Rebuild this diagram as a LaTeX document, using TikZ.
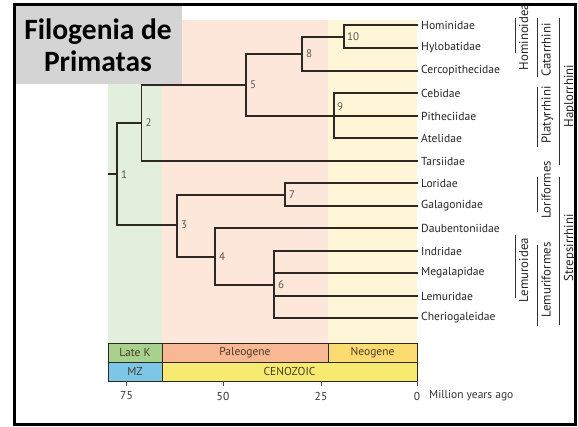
\documentclass[tikz,border=0pt]{standalone}
\usepackage{fontspec}
\setmainfont{PT Sans}
\newfontfamily\titlefont{Carlito}
\definecolor{bandG}{HTML}{E3EFDD}
\definecolor{bandP}{HTML}{FDE7DA}
\definecolor{bandY}{HTML}{FEF6D6}
\definecolor{lateK}{HTML}{A9D18E}
\definecolor{paleo}{HTML}{F8B894}
\definecolor{neo}{HTML}{FCDC70}
\definecolor{ceno}{HTML}{F6EB70}
\definecolor{mz}{HTML}{7CC7E8}
\definecolor{treec}{HTML}{2E2823}
\definecolor{numc}{HTML}{5A5550}
\definecolor{barc}{HTML}{4A3A2C}
\definecolor{titleg}{HTML}{D4D4D4}
\tikzset{
  br/.style={draw=treec, line width=1.3pt},
  taxon/.style={anchor=west, inner sep=0pt, font=\fontsize{11.6}{13}\selectfont, text=black!85},
  num/.style={anchor=west, inner sep=0pt, font=\fontsize{11}{13}\selectfont, text=numc},
  clade/.style={rotate=90, anchor=base, inner sep=0pt, font=\fontsize{12.8}{14}\selectfont, text=black!85},
  cladeline/.style={draw=black!80, line width=0.9pt},
  bar/.style={draw=treec, line width=1pt, font=\fontsize{11.5}{13}\selectfont, text=barc, inner sep=0pt},
  tick/.style={draw=black!70, line width=0.8pt},
  axis/.style={font=\fontsize{11.5}{13}\selectfont, text=black!80, inner sep=0pt}
}
\begin{document}
\begin{tikzpicture}[x=1pt, y=-1pt]
\useasboundingbox (0,0) rectangle (578,426);
% background bands
\fill[bandG] (108,20) rectangle (162,343);
\fill[bandP] (162,20) rectangle (328,343);
\fill[bandY] (328,20) rectangle (417,343);
% title
\fill[titleg] (16,5) rectangle (182,84);
\node[font=\titlefont\bfseries\fontsize{29.5}{32}\selectfont, align=center] (title) at (98,45) {Filogenia de\\Primatas};
% tips
\foreach \n/\y in {hom/25, hyl/48, cer/71, ceb/93, pit/116, ate/138, tar/161, lor/183, gal/206, dau/228, ind/251, meg/273, lem/296, che/318} {
  \coordinate (\n) at (418,\y);
}
\node[taxon] (Lhom) at (421,25) {Hominidae};
\node[taxon] (Lhyl) at (421,48) {Hylobatidae};
\node[taxon] (Lcer) at (421,71) {Cercopithecidae};
\node[taxon] (Lceb) at (421,93) {Cebidae};
\node[taxon] (Lpit) at (421,116) {Pitheciidae};
\node[taxon] (Late) at (421,138) {Atelidae};
\node[taxon] (Ltar) at (421,161) {Tarsiidae};
\node[taxon] (Llor) at (421,183) {Loridae};
\node[taxon] (Lgal) at (421,206) {Galagonidae};
\node[taxon] (Ldau) at (421,228) {Daubentoniidae};
\node[taxon] (Lind) at (421,251) {Indridae};
\node[taxon] (Lmeg) at (421,273) {Megalapidae};
\node[taxon] (Llem) at (421,296) {Lemuridae};
\node[taxon] (Lche) at (421,318) {Cheriogaleidae};
% internal nodes
\coordinate (root) at (108,174);
\coordinate (n1) at (117,174);
\coordinate (n2) at (141.5,123);
\coordinate (n5) at (246,85);
\coordinate (n8) at (302,54);
\coordinate (n10) at (344,37);
\coordinate (n9) at (334,116);
\coordinate (n3) at (177,225);
\coordinate (n7) at (285,195);
\coordinate (n4) at (215,257);
\coordinate (n6) at (274,285);
% branches
\draw[br] (root) -- (n1);
\draw[br] (n1) |- (n2);
\draw[br] (n1) |- (n3);
\draw[br] (n2) |- (n5);
\draw[br] (n2) |- (tar);
\draw[br] (n5) |- (n8);
\draw[br] (n5) |- (n9);
\draw[br] (n8) |- (n10);
\draw[br] (n8) |- (cer);
\draw[br] (n10) |- (hom);
\draw[br] (n10) |- (hyl);
\draw[br] (n9) |- (ceb);
\draw[br] (n9) |- (pit);
\draw[br] (n9) |- (ate);
\draw[br] (n3) |- (n7);
\draw[br] (n3) |- (n4);
\draw[br] (n7) |- (lor);
\draw[br] (n7) |- (gal);
\draw[br] (n4) |- (dau);
\draw[br] (n4) |- (n6);
\draw[br] (n6) |- (ind);
\draw[br] (n6) |- (meg);
\draw[br] (n6) |- (lem);
\draw[br] (n6) |- (che);
% node numbers
\node[num] (k1) at (121,175) {1};
\node[num] (k2) at (145.5,123) {2};
\node[num] (k5) at (250,85) {5};
\node[num] (k8) at (306,54) {8};
\node[num] (k10) at (347,37) {10};
\node[num] (k9) at (337,107) {9};
\node[num] (k3) at (181,225) {3};
\node[num] (k7) at (289,195) {7};
\node[num] (k4) at (219,257) {4};
\node[num] (k6) at (278,285) {6};
% clade brackets
\draw[cladeline] (515.5,18) coordinate (a1) -- (515.5,53) coordinate (a2);
\node[clade] (Chom) at (528,37) {Hominoidea};
\draw[cladeline] (537,18) coordinate (b1) -- (537,77) coordinate (b2);
\node[clade] (Ccat) at (550.5,50) {Catarrhini};
\draw[cladeline] (537,87) coordinate (c1) -- (537,147) coordinate (c2);
\node[clade] (Cpla) at (550.5,115) {Platyrrhini};
\draw[cladeline] (559.5,18) coordinate (d1) -- (559.5,165) coordinate (d2);
\node[clade] (Chap) at (573,96) {Haplorrhini};
\draw[cladeline] (537,177) coordinate (e1) -- (537,212) coordinate (e2);
\node[clade] (Clor) at (550.5,190) {Loriformes};
\draw[cladeline] (559.5,177) coordinate (f1) -- (559.5,325) coordinate (f2);
\node[clade] (Cstr) at (573,248) {Strepsirrhini};
\draw[cladeline] (515.5,235) coordinate (g1) -- (515.5,298) coordinate (g2);
\node[clade] (Clmd) at (528,270) {Lemuroidea};
\draw[cladeline] (537,245) coordinate (h1) -- (537,326) coordinate (h2);
\node[clade] (Clmf) at (550.5,280) {Lemuriformes};
% time bars
\node[bar, fill=lateK, minimum width=54pt, minimum height=19pt] (lk) at (135,352.5) {Late K};
\node[bar, fill=paleo, minimum width=166pt, minimum height=19pt] (pg) at (245,352.5) {Paleogene};
\node[bar, fill=neo, minimum width=89pt, minimum height=19pt] (ng) at (372.5,352.5) {Neogene};
\node[bar, fill=mz, minimum width=54pt, minimum height=19pt] (mzb) at (135,371.5) {MZ};
\node[bar, fill=ceno, minimum width=255pt, minimum height=19pt] (cz) at (289.5,371.5) {CENOZOIC};
% axis
\foreach \x/\t in {126.5/75, 223/50, 321/25, 417/0} {
  \draw[tick] (\x,381) -- (\x,386);
  \node[axis] at (\x,396) {\t};
}
\node[axis, anchor=west] (mya) at (429,396) {Million years ago};
% frame
\draw[line width=3.2pt] (14.5,4.5) rectangle (575.3,424.3);
\end{tikzpicture}
\end{document}
